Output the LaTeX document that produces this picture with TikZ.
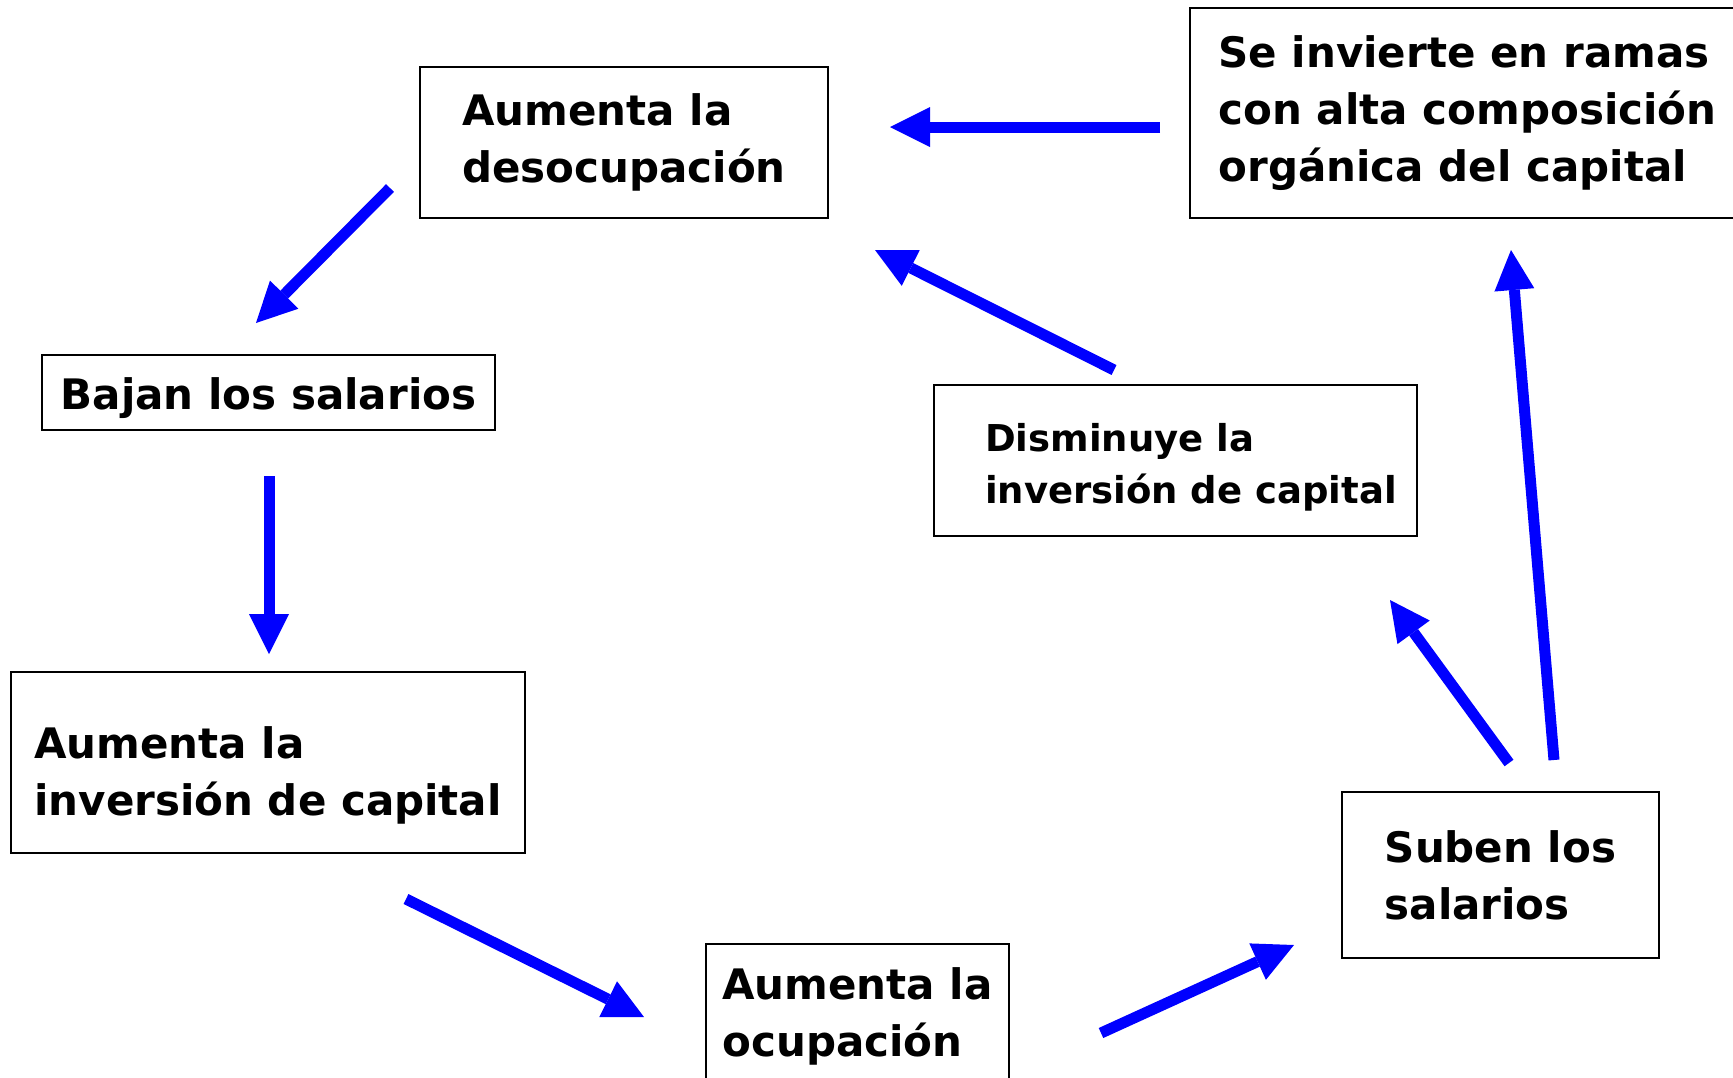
\documentclass[tikz,border=0pt]{standalone}
\usepackage{fontspec}
\setmainfont{DejaVu Sans}
\usetikzlibrary{arrows.meta,positioning}
\tikzset{
    box/.style = {rectangle, draw, line width=2pt, align=left, inner sep=0pt,
                  font=\fontsize{42}{57}\selectfont\bfseries},
    boxsmall/.style = {font=\fontsize{37}{52}\selectfont\bfseries},
    flow/.style = {draw=blue, blue, line width=11pt,
                   -{Triangle[length=40pt,width=40pt,line width=0pt]}}
}

\begin{document}
\begin{tikzpicture}[x=1pt,y=-1pt]
    \useasboundingbox (0,0) rectangle (1733,1077);

    \node (desoc) at (624,142.5) [box, minimum width=408, minimum height=151] {Aumenta la\\desocupación};
    \node (ramas) at (1467.5,113) [box, minimum width=555, minimum height=210] {Se invierte en ramas\\con alta composición\\orgánica del capital};
    \node (bajan) at (268.5,392.5) [box, minimum width=453, minimum height=75, text height=44pt] {Bajan los salarios};
    \node (dismin) at (1175.5,460.5) [box, boxsmall, minimum width=483, minimum height=151, text height=94pt] {\hspace*{31pt}Disminuye la\\\hspace*{31pt}inversión de capital};
    \node (invcap) at (268,762.5) [box, minimum width=514, minimum height=181, text height=115pt] {Aumenta la\\inversión de capital};
    \node (ocup) at (857.5,1016) [box, minimum width=303, minimum height=144] {Aumenta la\\ocupación};
    \node (suben) at (1500.5,875) [box, minimum width=317, minimum height=166] {Suben los\\salarios};

    \coordinate (ramasA) at (1160,127);   \coordinate (desocA) at (890,127);
    \coordinate (desocB) at (390,188);    \coordinate (bajanB) at (256,323);
    \coordinate (bajanC) at (269,476);    \coordinate (invcapC) at (269,654);
    \coordinate (invcapD) at (406,899);   \coordinate (ocupD) at (644,1017);
    \coordinate (ocupE) at (1101,1033);   \coordinate (subenE) at (1294,945);
    \coordinate (subenF) at (1509,763);   \coordinate (disminF) at (1390,600);
    \coordinate (subenG) at (1554,760);   \coordinate (ramasG) at (1511,250);
    \coordinate (disminH) at (1114,370);  \coordinate (desocH) at (875,250);

    \path (ramasA) edge[flow] (desocA);
    \path (desocB) edge[flow] (bajanB);
    \path (bajanC) edge[flow] (invcapC);
    \path (invcapD) edge[flow] (ocupD);
    \path (ocupE) edge[flow] (subenE);
    \path (subenF) edge[flow] (disminF);
    \path (subenG) edge[flow] (ramasG);
    \path (disminH) edge[flow] (desocH);
\end{tikzpicture}
\end{document}
